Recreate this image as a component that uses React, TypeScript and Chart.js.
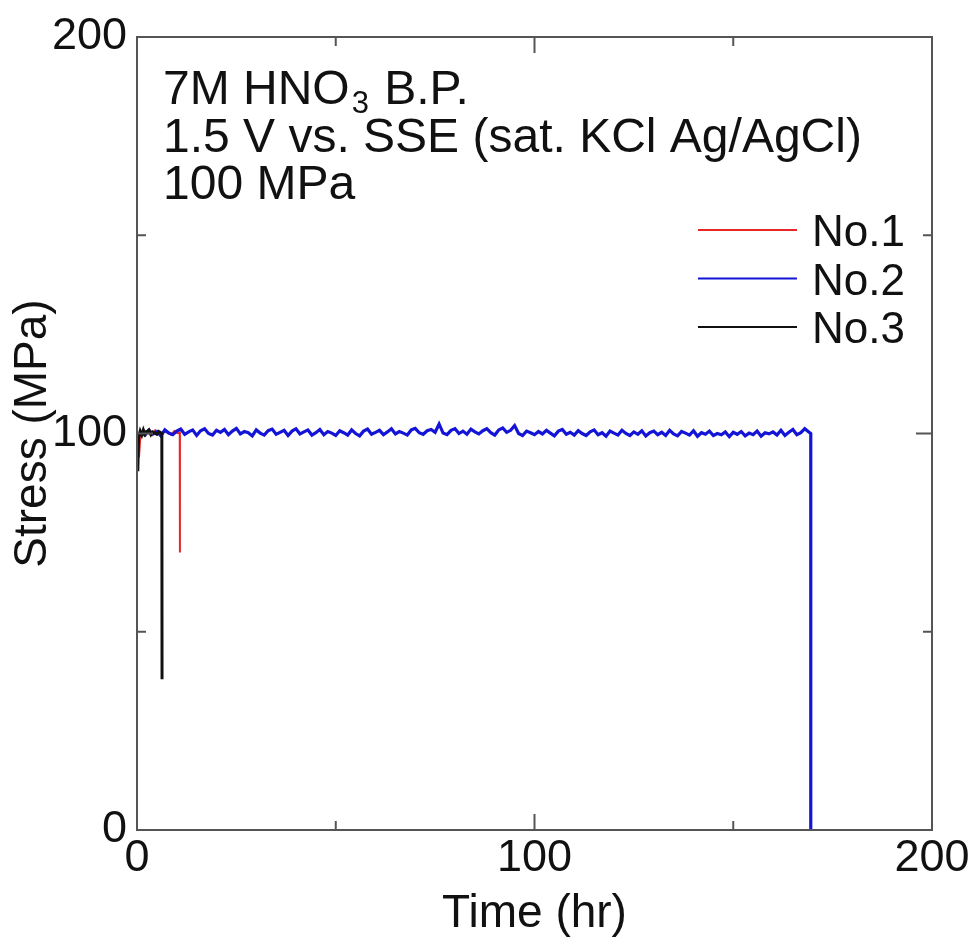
import React, { useEffect, useRef } from "react";
import { Chart, registerables } from "chart.js";

Chart.register(...registerables);

const FONT = "'Liberation Sans', Arial, Helvetica, sans-serif";

// Axis ranges and tick values
const xRange = [0, 200];
const yRange = [0, 200];
const majorTicks = [100];
const minorTicks = [50, 150];

// Annotation text
const annotationLines = ["7M HNO", "1.5 V vs. SSE (sat. KCl Ag/AgCl)", "100 MPa"];
const seriesNames = ["No.1", "No.2", "No.3"];
const seriesColors = ["rgb(232,40,40)", "rgb(20,20,215)", "#111111"];

// No.1 (red): loading, hold at ~100 MPa, failure at ~10.8 hr
const no1Time = [0.5, 0.9, 1.5, 2.2, 3.0, 3.8, 4.6, 5.4, 6.2, 7.0, 7.8, 8.6, 9.4, 10.2, 10.75, 10.8];
const no1Stress = [94.0, 100.2, 99.7, 100.6, 100.1, 99.6, 100.8, 100.0, 99.8, 100.5, 100.2, 99.7, 100.6, 100.1, 100.3, 70.0];

// No.2 (blue): hourly readings, held until ~169.5 hr, then failure
const no2Time = [
  1, 2, 3, 4, 5, 6, 7, 8, 9, 10,
  11, 12, 13, 14, 15, 16, 17, 18, 19, 20,
  21, 22, 23, 24, 25, 26, 27, 28, 29, 30,
  31, 32, 33, 34, 35, 36, 37, 38, 39, 40,
  41, 42, 43, 44, 45, 46, 47, 48, 49, 50,
  51, 52, 53, 54, 55, 56, 57, 58, 59, 60,
  61, 62, 63, 64, 65, 66, 67, 68, 69, 70,
  71, 72, 73, 74, 75, 76, 77, 78, 79, 80,
  81, 82, 83, 84, 85, 86, 87, 88, 89, 90,
  91, 92, 93, 94, 95, 96, 97, 98, 99, 100,
  101, 102, 103, 104, 105, 106, 107, 108, 109, 110,
  111, 112, 113, 114, 115, 116, 117, 118, 119, 120,
  121, 122, 123, 124, 125, 126, 127, 128, 129, 130,
  131, 132, 133, 134, 135, 136, 137, 138, 139, 140,
  141, 142, 143, 144, 145, 146, 147, 148, 149, 150,
  151, 152, 153, 154, 155, 156, 157, 158, 159, 160,
  161, 162, 163, 164, 165, 166, 167, 168, 169, 169.5, 169.5,
];
const no2Stress = [
  100.2, 99.6, 100.8, 99.9, 100.5, 99.4, 100.9, 100.1, 99.7, 100.6,
  101.1, 99.8, 100.4, 100.9, 99.5, 100.7, 101.2, 100.0, 99.6, 100.8,
  100.3, 101.0, 99.7, 100.6, 101.3, 99.9, 100.5, 100.2, 99.4, 100.9,
  100.1, 99.6, 100.7, 101.1, 99.8, 100.3, 100.8, 99.5, 100.6, 101.2,
  99.9, 100.4, 100.9, 99.6, 100.2, 101.0, 99.7, 100.5, 100.1, 99.5,
  100.7, 100.2, 99.6, 100.9, 100.0, 99.4, 100.6, 101.1, 99.8, 100.3,
  100.8, 99.7, 100.4, 101.2, 99.9, 100.5, 100.1, 99.6, 100.9, 101.3,
  100.2, 99.8, 100.7, 101.0, 100.3, 102.4, 100.1, 99.7, 100.8, 101.2,
  100.0, 100.6, 99.8, 101.1, 100.4, 99.9, 100.7, 101.2, 100.2, 99.6,
  100.9, 101.4, 100.3, 100.8, 102.0, 100.0, 99.5, 100.6, 100.2, 99.7,
  100.5, 99.9, 100.8, 100.1, 99.4, 100.6, 101.0, 99.8, 100.3, 99.6,
  100.7, 100.0, 99.5, 100.4, 100.9, 99.7, 100.2, 99.3, 100.6, 100.1,
  99.6, 100.8, 100.0, 99.5, 100.4, 99.8, 100.7, 99.4, 100.2, 100.6,
  99.7, 100.3, 99.5, 100.8, 99.9, 99.4, 100.5, 100.1, 99.6, 100.7,
  99.3, 100.2, 99.8, 100.6, 99.5, 100.0, 99.7, 100.4, 99.2, 100.3,
  99.8, 100.5, 99.4, 100.1, 99.7, 100.6, 99.3, 100.2, 99.9, 100.4,
  99.6, 100.8, 99.5, 100.3, 101.0, 99.7, 100.2, 101.2, 100.4, 100.0, 0.0,
];

// No.3 (black): loading, hold at ~100 MPa, failure at ~6.3 hr
const no3Time = [0.2, 0.4, 0.8, 1.2, 1.6, 2.0, 2.5, 3.0, 3.5, 4.0, 4.5, 5.0, 5.5, 6.0, 6.25, 6.3];
const no3Stress = [90.5, 99.0, 100.6, 99.6, 100.9, 99.8, 100.5, 100.9, 99.7, 100.4, 100.1, 99.8, 100.5, 100.2, 100.0, 38.0];

const toPoints = (t: number[], v: number[]) => t.map((x, i) => ({ x, y: v[i] }));

const framePlugin = {
  id: "frameTicks",
  afterDraw(chart: any) {
    const { ctx, chartArea: a, scales } = chart;
    const xs = scales.x;
    const ys = scales.y;
    ctx.save();
    // frame
    ctx.strokeStyle = "#555555";
    ctx.lineWidth = 2;
    ctx.strokeRect(a.left, a.top, a.right - a.left, a.bottom - a.top);
    // inward ticks on all four sides
    const drawTicks = (vals: number[], len: number) => {
      ctx.beginPath();
      for (const v of vals) {
        const px = xs.getPixelForValue(v);
        ctx.moveTo(px, a.bottom);
        ctx.lineTo(px, a.bottom - len);
        ctx.moveTo(px, a.top);
        ctx.lineTo(px, a.top + len);
        const py = ys.getPixelForValue(v);
        ctx.moveTo(a.left, py);
        ctx.lineTo(a.left + len, py);
        ctx.moveTo(a.right, py);
        ctx.lineTo(a.right - len, py);
      }
      ctx.stroke();
    };
    drawTicks(majorTicks, 16);
    drawTicks(minorTicks, 9);

    // annotation text
    ctx.fillStyle = "#111111";
    ctx.textBaseline = "alphabetic";
    ctx.textAlign = "left";
    const tx = a.left + 26;
    const ty0 = a.top + 67;
    const pitch = 47.5;
    ctx.font = `48px ${FONT}`;
    ctx.fillText(annotationLines[0], tx, ty0);
    const w = ctx.measureText(annotationLines[0]).width;
    ctx.font = `31px ${FONT}`;
    ctx.fillText("3", tx + w + 2, ty0 + 9);
    const w3 = ctx.measureText("3").width;
    ctx.font = `48px ${FONT}`;
    ctx.fillText(" B.P.", tx + w + 2 + w3 + 2, ty0);
    ctx.fillText(annotationLines[1], tx, ty0 + pitch);
    ctx.fillText(annotationLines[2], tx, ty0 + pitch * 2);

    // legend
    const lx0 = a.right - 234;
    const lx1 = a.right - 135;
    const textX = a.right - 120;
    ctx.font = `44px ${FONT}`;
    seriesNames.forEach((name, i) => {
      const ly = a.top + 193 + i * 48.5;
      ctx.strokeStyle = seriesColors[i];
      ctx.lineWidth = 2;
      ctx.beginPath();
      ctx.moveTo(lx0, ly);
      ctx.lineTo(lx1, ly);
      ctx.stroke();
      ctx.fillStyle = "#111111";
      ctx.fillText(name, textX, ly + 16);
    });
    ctx.restore();
  },
};

export default function App() {
  const canvasRef = useRef<HTMLCanvasElement | null>(null);

  useEffect(() => {
    document.body.style.margin = "0";
    document.body.style.overflow = "hidden";
    const canvas = canvasRef.current;
    if (!canvas) return;
    const chart = new Chart(canvas, {
      type: "line",
      data: {
        datasets: [
          {
            label: seriesNames[0],
            data: toPoints(no1Time, no1Stress),
            borderColor: seriesColors[0],
            borderWidth: 2,
            pointRadius: 0,
            tension: 0,
            order: 3,
          },
          {
            label: seriesNames[1],
            data: toPoints(no2Time, no2Stress),
            borderColor: seriesColors[1],
            borderWidth: 3.2,
            pointRadius: 0,
            tension: 0,
            order: 2,
          },
          {
            label: seriesNames[2],
            data: toPoints(no3Time, no3Stress),
            borderColor: seriesColors[2],
            borderWidth: 3,
            pointRadius: 0,
            tension: 0,
            order: 1,
          },
        ],
      },
      options: {
        responsive: false,
        animation: false,
        events: [],
        layout: { padding: { top: 36, right: 44, left: 0, bottom: 0 } },
        plugins: {
          legend: { display: false },
          tooltip: { enabled: false },
          title: { display: false },
        },
        scales: {
          x: {
            type: "linear",
            min: xRange[0],
            max: xRange[1],
            grid: { display: false, drawTicks: false },
            border: { display: false },
            ticks: {
              stepSize: 100,
              font: { family: FONT, size: 45 },
              color: "#111111",
              padding: 2,
              maxRotation: 0,
              autoSkip: false,
            },
            title: {
              display: true,
              text: "Time (hr)",
              font: { family: FONT, size: 46 },
              color: "#111111",
              padding: { top: 0, bottom: 5 },
            },
            afterFit: (s: any) => {
              s.height = 117;
            },
          },
          y: {
            type: "linear",
            min: yRange[0],
            max: yRange[1],
            grid: { display: false, drawTicks: false },
            border: { display: false },
            ticks: {
              stepSize: 100,
              font: { family: FONT, size: 45 },
              color: "#111111",
              padding: 10,
              autoSkip: false,
            },
            title: {
              display: true,
              text: "Stress (MPa)",
              font: { family: FONT, size: 46 },
              color: "#111111",
              padding: { top: 6, bottom: 0 },
            },
            afterFit: (s: any) => {
              s.width = 137;
            },
          },
        },
      },
      plugins: [framePlugin],
    });
    return () => chart.destroy();
  }, []);

  return (
    <div style={{ width: 976, height: 947, background: "#ffffff" }}>
      <canvas ref={canvasRef} width={976} height={947} style={{ display: "block" }} />
    </div>
  );
}
